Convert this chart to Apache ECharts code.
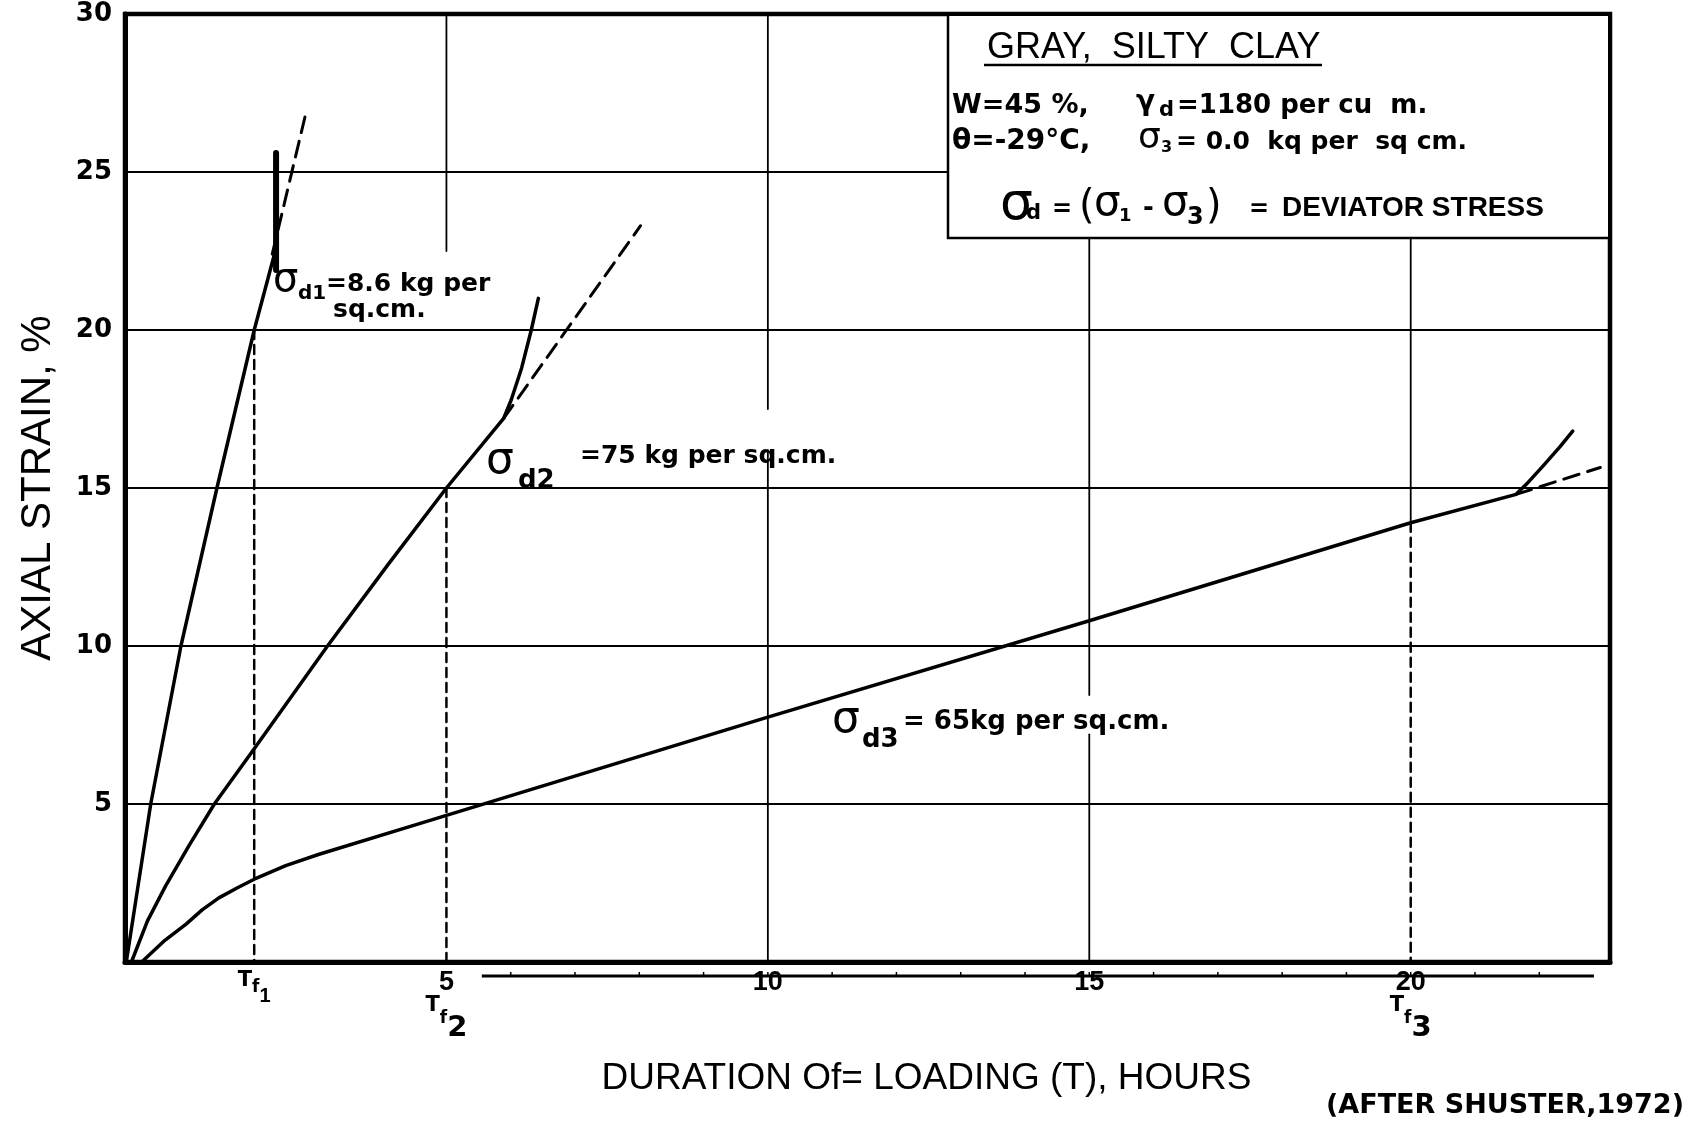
<!DOCTYPE html>
<html><head><meta charset="utf-8">
<script src="https://cdn.jsdelivr.net/npm/echarts@6/dist/echarts.min.js"></script>
<style>html,body{margin:0;padding:0;background:#fff}#c{width:1689px;height:1125px}</style>
</head><body><div id="c"></div>
<script>
// ---------------- data ----------------
const xTicks = [5, 10, 15, 20];                 // hours
const failureTimes = [2.01, 5.0, 20.0];         // T_f1, T_f2, T_f3 (hours)
const failureStrains = [20.0, 15.0, 13.9];      // axial strain at failure (%)

// sigma_d1 = 8.6 kg/sq.cm
const curve1 = [[0.02,0],[0.40,5],[0.87,10],[1.43,15],[2.01,20],[2.22,21.6],[2.35,22.6]];
const curve1Jump = [[2.35,21.9],[2.35,25.6]];
const curve1Ext = [[2.29,22.4],[2.83,27.0]];
// sigma_d2 = 75 kg/sq.cm
const curve2 = [[0.10,0],[0.35,1.3],[0.63,2.4],[1.00,3.7],[1.39,5],[2.01,6.75],[3.15,10],[4.10,12.6],[5.00,15],[5.89,17.2],[6.01,17.8],[6.17,18.8],[6.32,20.0],[6.43,21.0]];
const curve2Ext = [[5.89,17.2],[8.02,23.3]];
// sigma_d3 = 65 kg/sq.cm
const curve3 = [[0.26,0],[0.60,0.65],[0.95,1.2],[1.20,1.65],[1.46,2.03],[1.75,2.35],[2.01,2.62],[2.50,3.05],[3.02,3.41],[4.58,4.38],[10,7.75],[15,10.8],[20,13.9],[21.64,14.8],[21.79,15.1],[22.06,15.7],[22.32,16.3],[22.52,16.8]];
const curve3Ext = [[21.64,14.8],[22.95,15.65]];

// vertical grid line pieces: [hour, strain from, strain to]
const gridSegmentsV = [[5,30,22.5],[10,30,17.5],[10,16.2,0],[15,30,8.45],[15,7.2,0],[20,30,13.9]];

// ---------------- chart ----------------
const chart = echarts.init(document.getElementById('c'));
const BLACK = '#000';

function lineSeries(data, width, dash) {
  return {
    type: 'line', data: data, showSymbol: false, symbol: 'none', silent: true,
    smooth: false, z: 3,
    lineStyle: { color: BLACK, width: width, type: dash || 'solid', cap: 'round', join: 'round' }
  };
}

const series = [];
gridSegmentsV.forEach(s => series.push(lineSeries([[s[0], s[1]], [s[0], s[2]]], 1.8)));
failureTimes.forEach((t, i) => series.push(lineSeries([[t, failureStrains[i]], [t, 0]], 2.5, [9, 6])));
series.push(lineSeries(curve1, 3.5));
series.push(lineSeries(curve1Jump, 6));
series.push(lineSeries(curve1Ext, 3, [16, 9]));
series.push(lineSeries(curve2, 3.5));
series.push(lineSeries(curve2Ext, 3, [16, 9]));
series.push(lineSeries(curve3, 3.5));
series.push(lineSeries(curve3Ext, 3, [16, 9]));

const labelValues = Array.from(new Set(failureTimes.concat(xTicks))).sort((a, b) => a - b);

chart.setOption({
  animation: false,
  backgroundColor: '#fff',
  grid: { left: 125, right: 79, top: 14, bottom: 163, show: true, borderColor: BLACK, borderWidth: 4.5,
          containLabel: false, outerBoundsMode: 'none' },
  xAxis: {
    type: 'value', min: 0, max: 23.1, interval: 5,
    splitLine: { show: false }, axisTick: { show: false },
    axisLine: { onZero: false, lineStyle: { color: BLACK, width: 5 } },
    axisLabel: {
      customValues: labelValues, margin: 8, color: BLACK,
      fontFamily: 'Liberation Sans', fontWeight: 'bold', fontSize: 27,
      formatter: function (v) {
        const lines = [];
        if (xTicks.indexOf(v) >= 0) lines.push('{num|' + v + '}');
        const fi = failureTimes.indexOf(v);
        if (fi === 0) lines.push('{tOne|T}{fOne|f}{sOne|1}');
        else if (fi > 0) lines.push('{tBig|T}{fBig|f}{sBig|' + (fi + 1) + '}');
        return lines.join('\n');
      },
      rich: {
        num: { fontFamily: 'Liberation Sans', fontWeight: 'bold', fontSize: 27, lineHeight: 25, color: BLACK },
        tOne: { fontFamily: 'DejaVu Sans', fontWeight: 'bold', fontSize: 21, verticalAlign: 'top', lineHeight: 36, color: BLACK },
        fOne: { fontFamily: 'DejaVu Sans', fontWeight: 'bold', fontSize: 17, verticalAlign: 'middle', lineHeight: 36, color: BLACK },
        sOne: { fontFamily: 'Liberation Sans', fontWeight: 'bold', fontSize: 20, verticalAlign: 'bottom', lineHeight: 36, color: BLACK },
        tBig: { fontFamily: 'DejaVu Sans', fontWeight: 'bold', fontSize: 21, verticalAlign: 'top', lineHeight: 48, color: BLACK },
        fBig: { fontFamily: 'DejaVu Sans', fontWeight: 'bold', fontSize: 17, verticalAlign: 'middle', lineHeight: 48, color: BLACK },
        sBig: { fontFamily: 'DejaVu Sans', fontWeight: 'bold', fontSize: 29, verticalAlign: 'bottom', lineHeight: 48, color: BLACK }
      }
    },
    name: 'DURATION Of= LOADING (T), HOURS', nameLocation: 'middle', nameGap: 98,
    nameTextStyle: { fontFamily: 'Liberation Sans', fontSize: 37, color: BLACK, padding: [0, 0, 0, 118] }
  },
  yAxis: {
    type: 'value', min: 0, max: 30, interval: 5,
    splitLine: { show: true, lineStyle: { color: BLACK, width: 1.8 } },
    axisLine: { show: true, lineStyle: { color: BLACK, width: 5 } },
    axisTick: { show: false },
    axisLabel: { formatter: v => (v === 0 ? '' : String(v)), fontFamily: 'DejaVu Sans', fontWeight: 'bold',
                 fontSize: 26, color: BLACK, margin: 13 },
    name: 'AXIAL STRAIN, %', nameLocation: 'middle', nameGap: 66, nameRotate: 90,
    nameTextStyle: { fontFamily: 'Liberation Sans', fontSize: 42, color: BLACK }
  },
  series: series
});

// ---------------- annotations ----------------
function txt(x, y, text, font, align) {
  const a = align || 'left';
  return { type: 'text', x: x, y: y, z: 21, silent: true,
           style: { text: text, font: font, fill: BLACK, align: a, textAlign: a,
                    verticalAlign: 'middle', textVerticalAlign: 'middle' } };
}
function seg(x1, y1, x2, y2, w) {
  return { type: 'line', z: 21, silent: true, shape: { x1: x1, y1: y1, x2: x2, y2: y2 },
           style: { stroke: BLACK, lineWidth: w } };
}
const B = (s) => 'bold ' + s + 'px "DejaVu Sans"';
const N = (s) => s + 'px "DejaVu Sans"';
const H = (s) => s + 'px "Liberation Sans"';
const HB = (s) => 'bold ' + s + 'px "Liberation Sans"';

const g = [];
// info box
g.push({ type: 'rect', z: 20, silent: true, shape: { x: 948, y: 16, width: 660, height: 222 }, style: { fill: '#fff' } });
g.push({ type: 'polyline', z: 21, silent: true, shape: { points: [[948, 14], [948, 238], [1612, 238]] },
         style: { stroke: BLACK, lineWidth: 2.5, fill: null } });
g.push(txt(987, 48, 'GRAY,  SILTY  CLAY', H(36)));
g.push(seg(984, 65, 1322, 65, 2.5));
g.push(txt(952, 106, 'W=45 %,', B(27)));
g.push(txt(1136, 103, 'γ', B(28)));
g.push(txt(1159, 111, 'd', B(21)));
g.push(txt(1177, 106, '=1180 per cu  m.', B(26)));
g.push(txt(952, 142, 'θ=-29°C,', B(28)));
g.push(txt(1138, 139, 'σ', N(36)));
g.push(txt(1161, 148, '3', B(16)));
g.push(txt(1176, 142, '= 0.0  kq per  sq cm.', B(25)));
g.push(txt(1000, 205, 'σ', N(52)));
g.push(txt(1026, 214, 'd', B(21)));
g.push(txt(1052, 210, '=', B(24)));
g.push(txt(1079, 208, '(', N(40)));
g.push(txt(1094, 204, 'σ', N(42)));
g.push(txt(1119, 216, '1', B(18)));
g.push(txt(1143, 209, '-', B(26)));
g.push(txt(1162, 204, 'σ', N(42)));
g.push(txt(1187, 218, '3', B(24)));
g.push(txt(1206, 208, ')', N(40)));
g.push(txt(1249, 210, '=', B(24)));
g.push(txt(1282, 208, 'DEVIATOR STRESS', HB(28)));

// curve labels
g.push(txt(273, 281, 'σ', N(40)));
g.push(txt(298, 294, 'd1', B(20)));
g.push(txt(326, 284, '=8.6 kg per', B(25)));
g.push(txt(333, 310, 'sq.cm.', B(25)));

g.push(txt(486, 462, 'σ', N(44)));
g.push(txt(518, 481, 'd2', B(26)));
g.push(txt(580, 456, '=75 kg per sq.cm.', B(25)));

g.push(txt(832, 721, 'σ', N(44)));
g.push(txt(862, 740, 'd3', B(26)));
g.push(txt(903, 722, '= 65kg per sq.cm.', B(26)));

// source note
g.push(txt(1684, 1106, '(AFTER SHUSTER,1972)', B(27), 'right'));

// ruler line under the axis (from the scanned original), placed through the axis scale
const r0 = chart.convertToPixel({ gridIndex: 0 }, [5.55, 0]);
const r1 = chart.convertToPixel({ gridIndex: 0 }, [22.85, 0]);
const ry = r0[1] + 14;
g.push(seg(r0[0], ry, r1[0], ry, 3));
for (let h = 6; h <= 22; h++) {
  const p = chart.convertToPixel({ gridIndex: 0 }, [h, 0]);
  g.push(seg(p[0], ry - 4, p[0], ry, 1.5));
}

chart.setOption({ graphic: { elements: g } });
</script></body></html>
